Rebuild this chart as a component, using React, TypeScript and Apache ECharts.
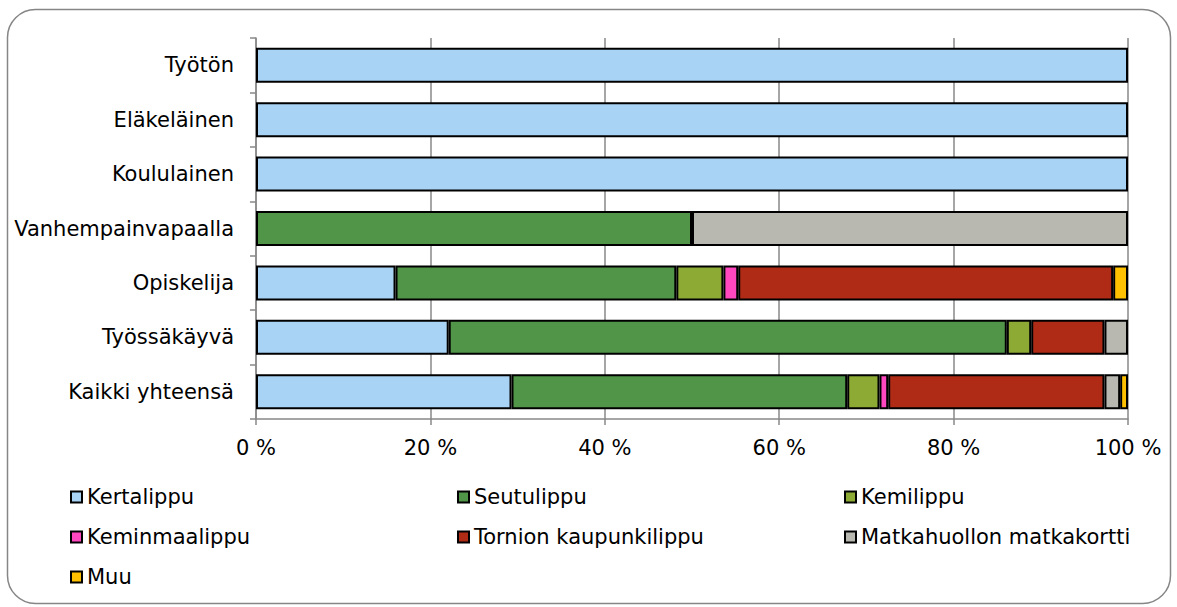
import React, { useEffect, useRef } from "react";
import * as echarts from "echarts";

const categories = [
  "Kaikki yhteensä",
  "Työssäkäyvä",
  "Opiskelija",
  "Vanhempainvapaalla",
  "Koululainen",
  "Eläkeläinen",
  "Työtön",
];

const kertalippu = [29.3, 22.1, 16.0, 0, 100, 100, 100];
const seutulippu = [38.5, 64.0, 32.2, 50, 0, 0, 0];
const kemilippu = [3.7, 2.8, 5.4, 0, 0, 0, 0];
const keminmaalippu = [1.0, 0, 1.7, 0, 0, 0, 0];
const tornionKaupunkilippu = [24.8, 8.4, 43.0, 0, 0, 0, 0];
const matkahuolto = [1.8, 2.7, 0, 50, 0, 0, 0];
const muu = [0.9, 0, 1.7, 0, 0, 0, 0];

const xTicks = [0, 20, 40, 60, 80, 100];

const seriesDefs = [
  { name: "Kertalippu", data: kertalippu, color: "#A8D3F4" },
  { name: "Seutulippu", data: seutulippu, color: "#519548" },
  { name: "Kemilippu", data: kemilippu, color: "#8CAA34" },
  { name: "Keminmaalippu", data: keminmaalippu, color: "#FF48BF" },
  { name: "Tornion kaupunkilippu", data: tornionKaupunkilippu, color: "#AF2B16" },
  { name: "Matkahuollon matkakortti", data: matkahuolto, color: "#B8B8B0" },
  { name: "Muu", data: muu, color: "#FFC000" },
];

const FONT = "DejaVu Sans";
const FS = 21;

export default function App() {
  const ref = useRef<HTMLDivElement>(null);
  useEffect(() => {
    if (!ref.current) return;
    const chart = echarts.init(ref.current, undefined, { renderer: "svg" });
    const legendCommon = {
      orient: "vertical",
      icon: "rect",
      itemWidth: 11,
      itemHeight: 11,
      itemGap: 19,
      padding: 0,
      top: 486.5,
      textStyle: { fontFamily: FONT, fontSize: FS, color: "#000", lineHeight: 21 },
      selectedMode: false,
    };
    chart.setOption({
      animation: false,
      backgroundColor: "#fff",
      textStyle: { fontFamily: FONT },
      graphic: [
        {
          type: "rect",
          shape: { x: 7.5, y: 9.5, width: 1163, height: 594, r: 28 },
          style: { fill: "none", stroke: "#868686", lineWidth: 1.5 },
          silent: true,
          z: -10,
        },
      ],
      legend: [
        { ...legendCommon, left: 70, data: ["Kertalippu", "Keminmaalippu", "Muu"] },
        { ...legendCommon, left: 457, data: ["Seutulippu", "Tornion kaupunkilippu"] },
        { ...legendCommon, left: 844, data: ["Kemilippu", "Matkahuollon matkakortti"] },
      ],
      grid: { left: 256, right: 49, top: 38, bottom: 188, containLabel: false },
      xAxis: {
        type: "value",
        min: xTicks[0],
        max: xTicks[xTicks.length - 1],
        interval: 20,
        axisLine: { show: true, lineStyle: { color: "#888", width: 1.5 } },
        axisTick: { show: true, length: 6, lineStyle: { color: "#888", width: 1.5 } },
        splitLine: { show: true, lineStyle: { color: "#888", width: 1.5 } },
        axisLabel: {
          formatter: (v: number) => `${v} %`,
          fontFamily: FONT,
          fontSize: FS,
          color: "#000",
          margin: 18,
        },
      },
      yAxis: {
        type: "category",
        data: categories,
        axisLine: { show: true, lineStyle: { color: "#888", width: 1.5 } },
        axisTick: { show: true, length: 6, lineStyle: { color: "#888", width: 1.5 } },
        axisLabel: {
          fontFamily: FONT,
          fontSize: FS,
          color: "#000",
          margin: 22,
        },
        splitLine: { show: false },
      },
      series: seriesDefs.map((s) => ({
        name: s.name,
        type: "bar",
        stack: "total",
        barWidth: 35,
        data: s.data.map((v) => (v === 0 ? null : v)),
        itemStyle: { color: s.color, borderColor: "#000", borderWidth: 2 },
      })),
    });
    return () => chart.dispose();
  }, []);
  return <div ref={ref} style={{ width: 1177, height: 607, position: "absolute", left: 0, top: 0 }} />;
}
